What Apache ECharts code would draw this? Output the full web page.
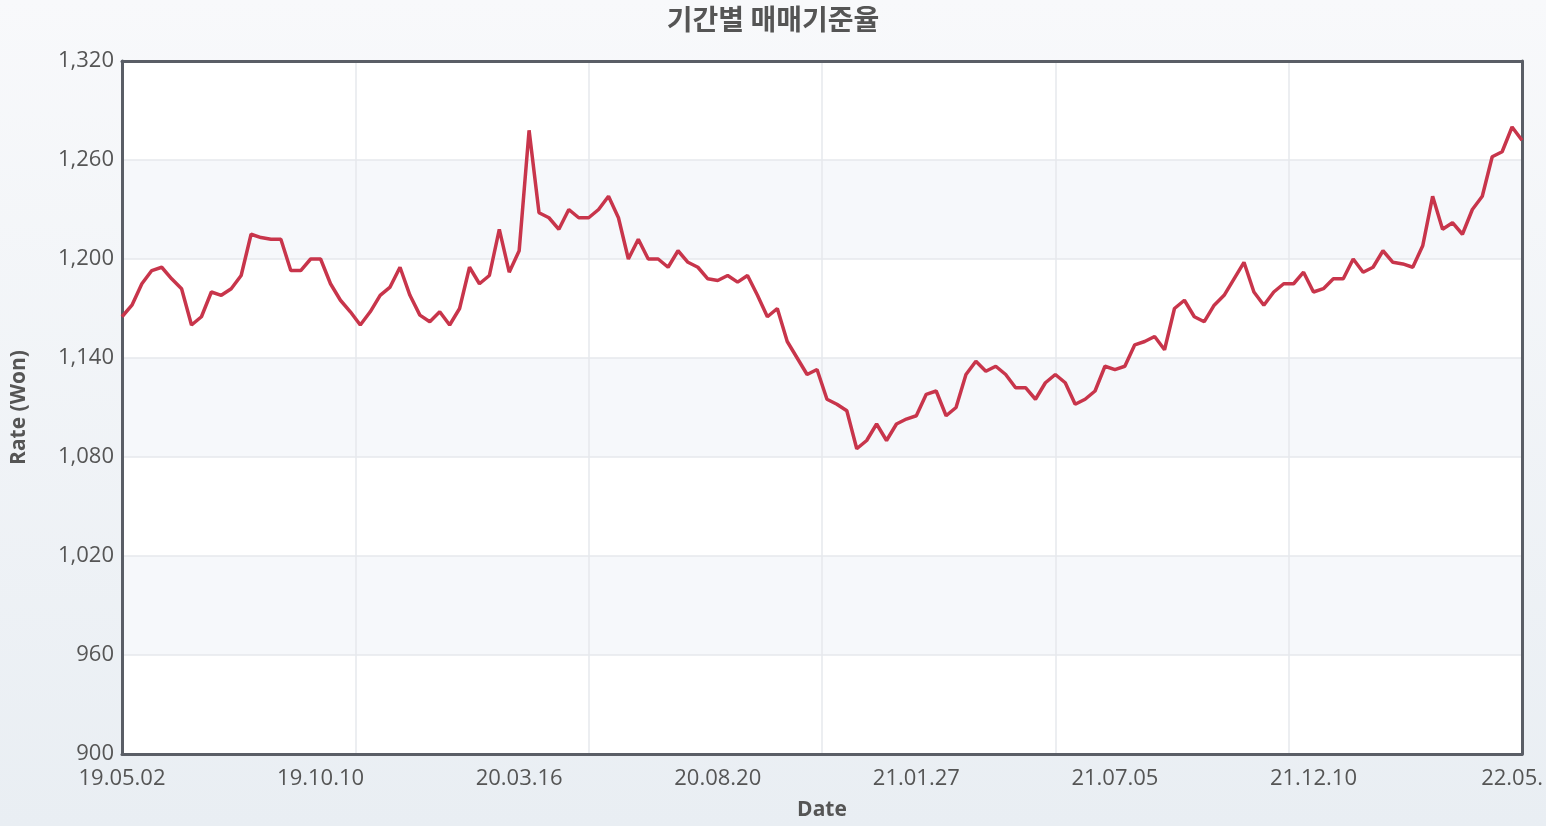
<!DOCTYPE html>
<html><head><meta charset="utf-8">
<script src="https://cdn.jsdelivr.net/npm/echarts@6/dist/echarts.min.js"></script>
<style>html,body{margin:0;padding:0;}#c{width:1546px;height:826px;background:linear-gradient(180deg,#f8f9fb 0%,#e9eef3 100%);}</style>
</head><body><div id="c"></div>
<script>
const tickLabels = ['19.05.02','19.10.10','20.03.16','20.08.20','21.01.27','21.07.05','21.12.10','22.05.'];
const rates = [1165,1172,1185,1193,1195,1188,1182,1160,1165,1180,1178,1182,1190,1215,1213,1212,1212,1193,1193,1200,
1200,1185,1175,1168,1160,1168,1178,1183,1195,1178,1166,1162,1168,1160,1170,1195,1185,1190,1218,1192,
1205,1278,1228,1225,1218,1230,1225,1225,1230,1238,1225,1200,1212,1200,1200,1195,1205,1198,1195,1188,
1187,1190,1186,1190,1178,1165,1170,1150,1140,1130,1133,1115,1112,1108,1085,1090,1100,1090,1100,1103,
1105,1118,1120,1105,1110,1130,1138,1132,1135,1130,1122,1122,1115,1125,1130,1125,1112,1115,1120,1135,
1133,1135,1148,1150,1153,1145,1170,1175,1165,1162,1172,1178,1188,1198,1180,1172,1180,1185,1185,1192,
1180,1182,1188,1188,1200,1192,1195,1205,1198,1197,1195,1208,1238,1218,1222,1215,1230,1238,1262,1265,
1280,1272];
const N = rates.length - 1;
const frame = {show:true,onZero:false,lineStyle:{color:'#5a5e66',width:3}};
const chart = echarts.init(document.getElementById('c'));
chart.setOption({
  title:{text:'기간별 매매기준율',left:'center',top:0,textStyle:{fontFamily:'Noto Sans CJK KR',fontSize:28,fontWeight:'bold',color:'#555'}},
  grid:{left:122,right:12,top:61,bottom:71,show:true,borderWidth:0,backgroundColor:'#fff'},
  xAxis:[
    {type:'value',min:0,max:N,interval:20,name:'Date',nameLocation:'middle',nameGap:46,position:'bottom',
     nameTextStyle:{fontFamily:'Open Sans',fontSize:21,fontWeight:'bold',color:'#555'},
     axisLine:frame,axisTick:{show:false},splitLine:{show:false},
     axisLabel:{fontFamily:'Open Sans',fontSize:22,color:'#555',margin:14,formatter:v=>tickLabels[Math.round(v/20)]||''}},
    {type:'value',min:0,max:N,interval:23.5,position:'top',axisLine:frame,axisTick:{show:false},axisLabel:{show:false},
     splitLine:{lineStyle:{color:'#e6e8ec',width:1.5}}}
  ],
  yAxis:[{type:'value',min:900,max:1320,interval:60,name:'Rate (Won)',nameLocation:'middle',nameGap:92,nameRotate:90,position:'left',
    nameTextStyle:{fontFamily:'Open Sans',fontSize:21,fontWeight:'bold',color:'#555'},
    axisLine:frame,axisTick:{show:false},
    axisLabel:{fontFamily:'Open Sans',fontSize:22,color:'#555',margin:8,formatter:v=>v.toLocaleString('en-US')},
    splitLine:{lineStyle:{color:'#e6e8ec',width:1.5}},
    splitArea:{show:true,areaStyle:{color:['#ffffff','#f6f8fb']}}},
    {type:'value',min:900,max:1320,interval:60,position:'right',axisLine:frame,axisTick:{show:false},axisLabel:{show:false},splitLine:{show:false}}],
  series:[{type:'line',xAxisIndex:0,yAxisIndex:0,data:rates.map((v,i)=>[i,v]),showSymbol:false,
    lineStyle:{color:'#c8354b',width:3.5},itemStyle:{color:'#c8354b'},animation:false}]
});
</script></body></html>
